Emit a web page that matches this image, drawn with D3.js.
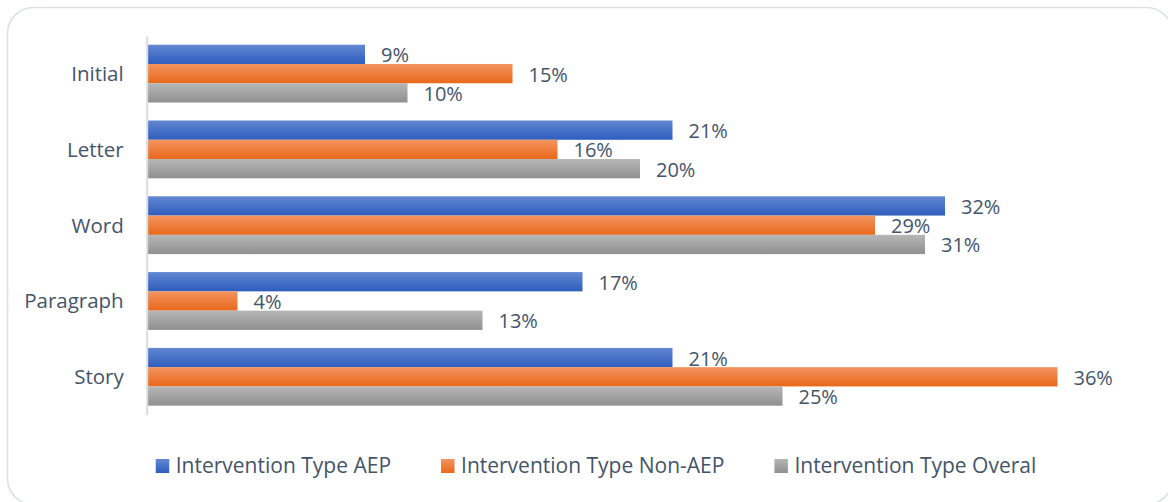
<!DOCTYPE html>
<html>
<head>
<meta charset="utf-8">
<script src="https://cdn.jsdelivr.net/npm/d3@7/dist/d3.min.js"></script>
<style>
  html, body { margin: 0; padding: 0; background: #ffffff; }
  svg { display: block; }
  text { font-family: "Open Sans", "Noto Sans", sans-serif; fill: #44546a; }
</style>
</head>
<body>
<svg id="chart" width="1168" height="502"></svg>
<script>
// ---- data ----
const categories = ["Initial", "Letter", "Word", "Paragraph", "Story"];
const seriesNames = ["Intervention Type AEP", "Intervention Type Non-AEP", "Intervention Type Overal"];
const aepValues = [8.7, 21.0, 31.9, 17.4, 21.0];
const nonAepValues = [14.6, 16.4, 29.1, 3.6, 36.4];
const overallValues = [10.4, 19.7, 31.1, 13.4, 25.4];
const xDomain = [0, 40];

// ---- styles ----
const gradStops = [
  ["#6387d2", "#2e5dbd"],
  ["#f39460", "#e8681a"],
  ["#b6b6b6", "#909090"]
];

const seriesValues = [aepValues, nonAepValues, overallValues];
const svg = d3.select("#chart");

// gradients
const defs = svg.append("defs");
gradStops.forEach((g, i) => {
  const lg = defs.append("linearGradient").attr("id", "grad" + i)
    .attr("x1", 0).attr("y1", 0).attr("x2", 0).attr("y2", 1);
  lg.append("stop").attr("offset", "0%").attr("stop-color", g[0]);
  lg.append("stop").attr("offset", "100%").attr("stop-color", g[1]);
});

// frame
svg.append("rect")
  .attr("x", 7.5).attr("y", 7.5)
  .attr("width", 1165).attr("height", 497)
  .attr("rx", 26).attr("ry", 26)
  .attr("fill", "#ffffff")
  .attr("stroke", "#dde1e7").attr("stroke-width", 1.6);

const x = d3.scaleLinear().domain(xDomain).range([147.5, 1147.5]);
const y = d3.scaleBand().domain(categories).range([36, 414.4])
  .paddingInner(0.2375).paddingOuter(0.115);
const ySub = d3.scaleBand().domain(d3.range(seriesNames.length)).range([0, y.bandwidth()]);

// bars
const groups = svg.append("g").selectAll("g")
  .data(categories).join("g")
  .attr("transform", d => `translate(0,${y(d)})`);

groups.each(function(cat, ci) {
  const g = d3.select(this);
  seriesValues.forEach((vals, si) => {
    const v = vals[ci];
    g.append("rect")
      .attr("x", x(0))
      .attr("y", ySub(si))
      .attr("width", x(v) - x(0))
      .attr("height", ySub.bandwidth())
      .attr("fill", `url(#grad${si})`);
  });
  seriesValues.forEach((vals, si) => {
    const v = vals[ci];
    g.append("text")
      .attr("x", x(v) + 16)
      .attr("y", ySub(si) + ySub.bandwidth() / 2 + 8)
      .attr("font-size", 20)
      .text(Math.round(v) + "%");
  });
});

// axis (category)
const yAxis = d3.axisLeft(y).tickSize(0).tickPadding(23);
const ax = svg.append("g").attr("transform", `translate(${x(0) - 0.8},0)`).call(yAxis);
ax.select(".domain").attr("stroke", "#d9dde3").attr("stroke-width", 2);
ax.selectAll(".tick text")
  .attr("font-family", "'Open Sans', 'Noto Sans', sans-serif")
  .attr("font-size", 20.5)
  .attr("fill", "#44546a")
  .attr("dy", null)
  .attr("y", 7.5);

// legend
const legend = svg.append("g");
const items = legend.selectAll("g").data(seriesNames).join("g");
items.append("rect")
  .attr("width", 13.5).attr("height", 14)
  .attr("y", -14)
  .attr("fill", (d, i) => `url(#grad${i})`);
items.append("text")
  .attr("x", 20)
  .attr("font-size", 21)
  .text(d => d);
const gap = 50;
let widths = [];
items.each(function() { widths.push(20 + d3.select(this).select("text").node().getComputedTextLength()); });
const total = d3.sum(widths) + gap * (widths.length - 1);
let cx = 596 - total / 2;
items.attr("transform", (d, i) => {
  const t = `translate(${cx},473)`;
  cx += widths[i] + gap;
  return t;
});
</script>
</body>
</html>
